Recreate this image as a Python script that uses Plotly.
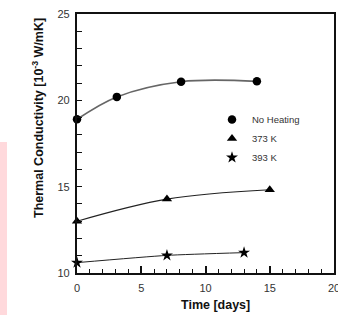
import plotly.graph_objects as go

# Data
days_no_heat = [0, 3.1, 8.1, 14]
tc_no_heat = [18.9, 20.2, 21.08, 21.1]

days_373 = [0, 7, 15]
tc_373 = [13.0, 14.28, 14.82]

days_393 = [0, 7, 13]
tc_393 = [10.6, 11.02, 11.18]

series_names = ["No Heating", "373 K", "393 K"]

W, H = 338, 327
ML, MR, MT, MB = 77, 4, 14, 54
PW, PH = W - ML - MR, H - MT - MB


def px_x(p):
    return (p - ML) / PW


def px_y(p):
    return (H - MB - p) / PH


fig = go.Figure()

# fitted curves
fig.add_trace(go.Scatter(x=days_no_heat, y=tc_no_heat, mode="lines",
                         line=dict(color="#666666", width=1.6, shape="spline", smoothing=1.0),
                         showlegend=False, hoverinfo="skip", cliponaxis=False))
fig.add_trace(go.Scatter(x=days_373, y=tc_373, mode="lines",
                         line=dict(color="#222222", width=1.1, shape="spline", smoothing=1.0),
                         showlegend=False, hoverinfo="skip", cliponaxis=False))
fig.add_trace(go.Scatter(x=days_393, y=tc_393, mode="lines",
                         line=dict(color="#222222", width=1.0, shape="spline", smoothing=0.6),
                         showlegend=False, hoverinfo="skip", cliponaxis=False))

# markers
fig.add_trace(go.Scatter(x=days_no_heat, y=tc_no_heat, mode="markers", name=series_names[0],
                         marker=dict(symbol="circle", size=8.5, color="black"), cliponaxis=False))
fig.add_trace(go.Scatter(x=days_373, y=tc_373, mode="markers", name=series_names[1],
                         marker=dict(symbol="triangle-up", size=9, color="black"), cliponaxis=False))
fig.add_trace(go.Scatter(x=days_393, y=tc_393, mode="markers", name=series_names[2],
                         marker=dict(symbol="star", size=9, color="black"), cliponaxis=False))

fig.update_layout(
    width=W, height=H,
    margin=dict(l=ML, r=MR, t=MT, b=MB, autoexpand=False),
    paper_bgcolor="white", plot_bgcolor="white",
    font=dict(family="Liberation Sans, Arial, sans-serif", color="#222222"),
    showlegend=True,
    legend=dict(x=px_x(212), y=px_y(105), xanchor="left", yanchor="top",
                font=dict(size=9.5, color="#333333"),
                bgcolor="rgba(0,0,0,0)", itemwidth=30, tracegroupgap=0),
    shapes=[
        dict(type="rect", xref="paper", yref="paper",
             x0=px_x(0), x1=px_x(7), y0=px_y(315), y1=px_y(142),
             line=dict(width=0), fillcolor="#ffd9dc", layer="below"),
    ],
    annotations=[
        dict(text="<b>Thermal Conductivity [10<sup>-3</sup> W/mK]</b>",
             xref="paper", yref="paper", x=px_x(38), y=px_y(118),
             textangle=-90, showarrow=False, xanchor="center", yanchor="middle",
             font=dict(size=12.5, color="#111111")),
        dict(text="<b>Time [days]</b>",
             xref="paper", yref="paper", x=px_x(215), y=px_y(305),
             showarrow=False, xanchor="center", yanchor="middle",
             font=dict(size=12.5, color="#111111")),
    ],
)

fig.update_xaxes(range=[0, 20], tick0=0, dtick=5, ticks="inside", ticklen=7, tickwidth=1.5,
                 tickcolor="#111111", showgrid=False, zeroline=False, automargin=False,
                 showline=True, linewidth=2.2, linecolor="#111111", mirror=True,
                 tickfont=dict(size=11, color="#333333"), ticklabelstandoff=4,
                 ticklabeloverflow="allow",
                 minor=dict(dtick=1, ticks="inside", ticklen=4, tickwidth=1.3, tickcolor="#111111"))
fig.update_yaxes(range=[10, 25], tick0=10, dtick=5, ticks="inside", ticklen=5, tickwidth=1.3,
                 tickcolor="#111111", showgrid=False, zeroline=False, automargin=False,
                 showline=True, linewidth=2.2, linecolor="#111111", mirror=True,
                 tickfont=dict(size=11, color="#333333"), ticklabelstandoff=3,
                 ticklabeloverflow="allow",
                 minor=dict(dtick=1, ticks="inside", ticklen=5, tickwidth=1.3, tickcolor="#111111"))

fig.write_html("out.html", config={"displayModeBar": False},
               post_script="document.body.style.margin='0px';document.body.style.padding='0px';"
                           "document.body.style.overflow='hidden';"
                           "document.documentElement.style.overflow='hidden';")
